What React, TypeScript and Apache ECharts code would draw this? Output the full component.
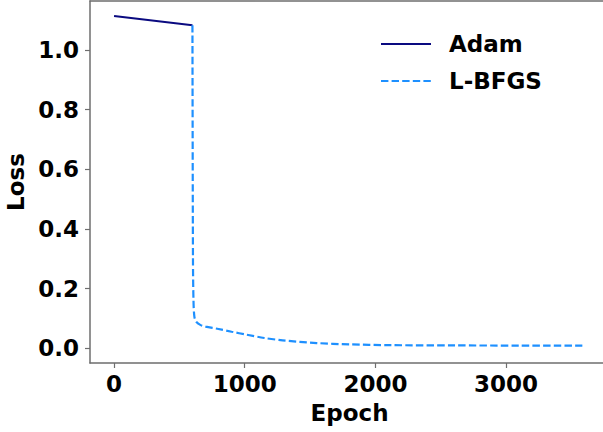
import React, { useEffect, useRef } from "react";
import * as echarts from "echarts";

const adamEpochs = [0, 600];
const adamLoss = [1.115, 1.084];

const lbfgsEpochs = [600, 604, 608, 615, 630, 660, 700, 790, 900, 1015, 1150, 1290, 1550, 1800, 2100, 2600, 3100, 3600];
const lbfgsLoss = [1.084, 0.3, 0.16, 0.105, 0.088, 0.078, 0.072, 0.065, 0.055, 0.045, 0.034, 0.026, 0.017, 0.0125, 0.01, 0.009, 0.0085, 0.008];

const xTicks = [0, 1000, 2000, 3000];
const yTicks = [0, 0.2, 0.4, 0.6, 0.8, 1.0];
const legendNames = ["Adam", "L-BFGS"];

const FONT = "DejaVu Sans";
const FS = 23;
const AXIS_COLOR = "#6e6e6e";

export default function App() {
  const ref = useRef<HTMLDivElement>(null);
  useEffect(() => {
    if (!ref.current) return;
    const chart = echarts.init(ref.current, undefined, { renderer: "svg" });
    const textStyle = { fontFamily: FONT, fontWeight: "bold" as const, fontSize: FS, color: "#000" };
    chart.setOption({
      animation: false,
      grid: {
        left: 90,
        top: 1,
        right: 0,
        bottom: 69,
        show: false,
        containLabel: false,
        outerBoundsMode: "none",
      },
      xAxis: [
        {
          type: "value",
          min: -184,
          max: 3742,
          name: "Epoch",
          nameLocation: "middle",
          nameGap: 38,
          nameTextStyle: { ...textStyle, padding: [0, 0, 0, 6] },
          splitLine: { show: false },
          axisLine: { show: true, onZero: false, lineStyle: { color: AXIS_COLOR, width: 1.5 } },
          axisTick: { show: true, length: 5, customValues: xTicks, lineStyle: { color: AXIS_COLOR, width: 1.2 } },
          axisLabel: { ...textStyle, margin: 9, customValues: xTicks, formatter: (v: number) => String(v) },
        },
        {
          type: "value",
          position: "top",
          min: -184,
          max: 3742,
          splitLine: { show: false },
          axisLine: { show: true, onZero: false, lineStyle: { color: AXIS_COLOR, width: 1.5 } },
          axisTick: { show: false },
          axisLabel: { show: false },
        },
      ],
      yAxis: {
        type: "value",
        min: -0.05,
        max: 1.165,
        name: "Loss",
        nameLocation: "middle",
        nameGap: 55,
        nameRotate: 90,
        nameTextStyle: textStyle,
        splitLine: { show: false },
        axisLine: { show: true, onZero: false, lineStyle: { color: AXIS_COLOR, width: 1.5 } },
        axisTick: { show: true, length: 5, customValues: yTicks, lineStyle: { color: AXIS_COLOR, width: 1.2 } },
        axisLabel: { ...textStyle, margin: 11, customValues: yTicks, formatter: (v: number) => v.toFixed(1) },
      },
      series: [
        {
          name: legendNames[0],
          type: "line",
          xAxisIndex: 0,
          data: adamEpochs.map((e, i) => [e, adamLoss[i]]),
          showSymbol: false,
          symbol: "none",
          lineStyle: { color: "#0a0a80", width: 2 },
        },
        {
          name: legendNames[1],
          type: "line",
          xAxisIndex: 0,
          data: lbfgsEpochs.map((e, i) => [e, lbfgsLoss[i]]),
          showSymbol: false,
          symbol: "none",
          smooth: 0.3,
          lineStyle: { color: "#1e90ff", width: 2.2, type: [7.4, 3.2] },
        },
      ],
      graphic: [
        { type: "line", shape: { x1: 381, y1: 44, x2: 431, y2: 44 }, style: { stroke: "#0a0a80", lineWidth: 2.2 } },
        { type: "line", shape: { x1: 381, y1: 81, x2: 431, y2: 81 }, style: { stroke: "#1e90ff", lineWidth: 2.2, lineDash: [7.4, 3.2] } },
        { type: "text", x: 449, y: 44, style: { text: legendNames[0], font: `bold ${FS}px "${FONT}"`, fill: "#000", textVerticalAlign: "middle" } },
        { type: "text", x: 449, y: 81, style: { text: legendNames[1], font: `bold ${FS}px "${FONT}"`, fill: "#000", textVerticalAlign: "middle" } },
      ],
    });
    return () => chart.dispose();
  }, []);
  return <div ref={ref} style={{ position: "absolute", left: 0, top: 0, width: 603, height: 432 }} />;
}
